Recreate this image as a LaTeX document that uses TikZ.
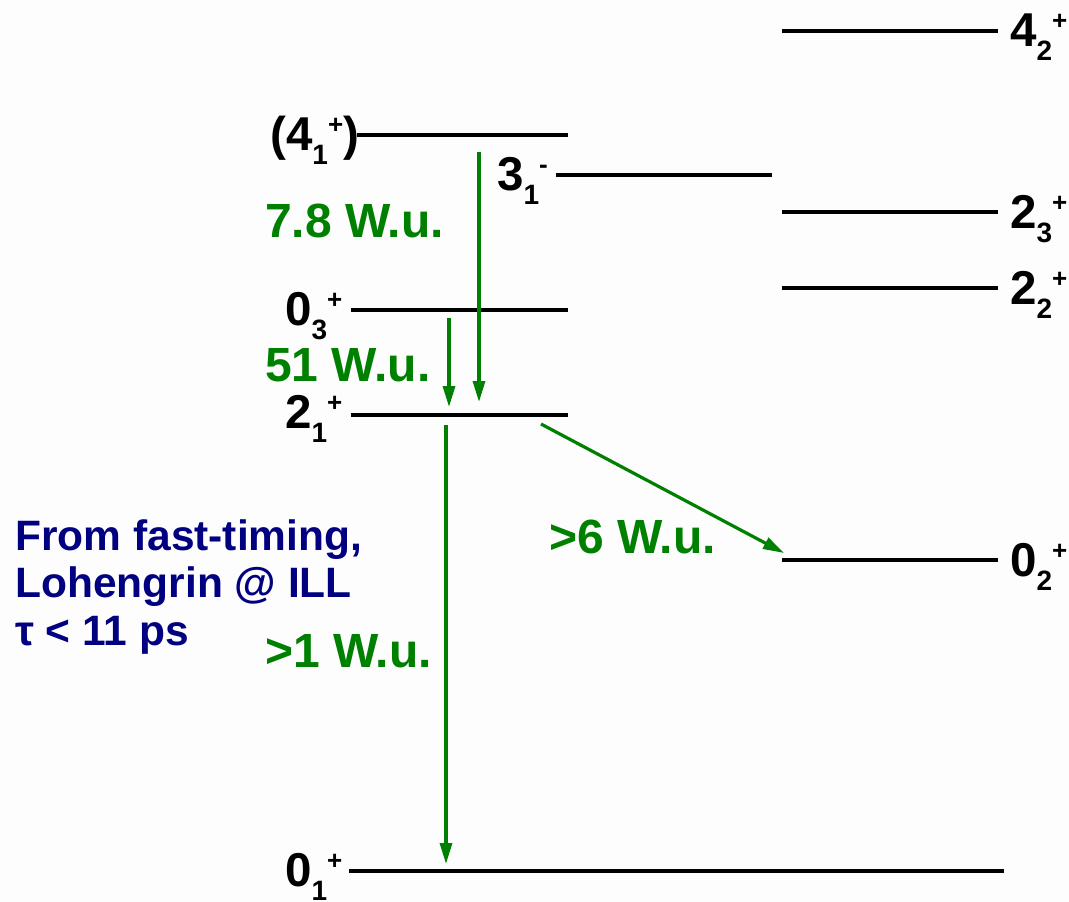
\documentclass[tikz,border=0pt]{standalone}
\usepackage{fontspec}
\setmainfont{Liberation Sans}
\usetikzlibrary{arrows.meta,positioning}
\definecolor{gtr}{HTML}{008000}
\definecolor{note}{HTML}{000080}
\definecolor{paper}{HTML}{FDFDFD}
% level label: main digit, subscript, parity
\newcommand{\lev}[3]{{\fontsize{47.5}{50}\selectfont #1}\raisebox{-14pt}{\fontsize{28}{30}\selectfont #2}\raisebox{17pt}{\fontsize{26}{30}\selectfont #3}}

\begin{document}
\begin{tikzpicture}[x=1pt,y=-1pt,
    elevel/.style={line width=3.8pt},
    gam/.style={gtr,line width=3.2pt,-{Triangle[length=21pt,width=12pt]}},
    lab/.style={anchor=base west,inner sep=0pt,font=\bfseries},
    wu/.style={anchor=base west,inner sep=0pt,gtr,font=\fontsize{48}{50}\selectfont\bfseries}]
  \fill[paper] (0,0) rectangle (1069,902);
  \useasboundingbox (0,0) rectangle (1069,902);

  % level ends
  \coordinate (l42a) at (782,31);  \coordinate (l42b) at (998,31);
  \coordinate (l41a) at (357,135); \coordinate (l41b) at (568,135);
  \coordinate (l31a) at (556,175); \coordinate (l31b) at (772,175);
  \coordinate (l23a) at (782,212); \coordinate (l23b) at (998,212);
  \coordinate (l22a) at (782,288); \coordinate (l22b) at (998,288);
  \coordinate (l03a) at (351,310); \coordinate (l03b) at (568,310);
  \coordinate (l21a) at (351,415); \coordinate (l21b) at (568,415);
  \coordinate (l02a) at (782,560); \coordinate (l02b) at (998,560);
  \coordinate (l01a) at (349,871); \coordinate (l01b) at (1004,871);

  % levels
  \foreach \l in {l42,l41,l31,l23,l22,l03,l21,l02,l01}
    \draw[elevel] (\l a) -- (\l b);

  % level labels
  \node[lab] (t42) at (1010,46) {\lev{4}{2}{+}};
  \node[lab] (t41) at (270,150) {{\fontsize{47.5}{50}\selectfont (}\lev{4}{1}{+}{\fontsize{47.5}{50}\selectfont )}};
  \node[lab] (t31) at (497,190) {\lev{3}{1}{-}};
  \node[lab] (t23) at (1010,228) {\lev{2}{3}{+}};
  \node[lab] (t22) at (1010,304) {\lev{2}{2}{+}};
  \node[lab] (t03) at (285,325) {\lev{0}{3}{+}};
  \node[lab] (t21) at (285,428) {\lev{2}{1}{+}};
  \node[lab] (t02) at (1010,576) {\lev{0}{2}{+}};
  \node[lab] (t01) at (285,886) {\lev{0}{1}{+}};

  % transitions
  \coordinate (g1s) at (479,152); \coordinate (g1e) at (479,402);
  \coordinate (g2s) at (449,318); \coordinate (g2e) at (449,407);
  \coordinate (g3s) at (446,425); \coordinate (g3e) at (446,864);
  \coordinate (g4s) at (541,424); \coordinate (g4e) at (784,553);
  \draw[gam] (g1s) -- (g1e);
  \draw[gam] (g2s) -- (g2e);
  \draw[gam] (g3s) -- (g3e);
  \draw[gam] (g4s) -- (g4e);

  % strengths
  \node[wu] (w1) at (265,237) {7.8 W.u.};
  \node[wu] (w2) at (265,381) {51 W.u.};
  \node[wu] (w3) at (549,553) {>6 W.u.};
  \node[wu] (w4) at (265,667) {>1 W.u.};

  % source note
  \node[note,anchor=north west,inner sep=0pt,align=left,
        font=\fontsize{42.5}{47.5}\selectfont\bfseries] (src) at (15,519)
    {From fast-timing,\\Lohengrin @ ILL\\τ < 11 ps};
\end{tikzpicture}
\end{document}
